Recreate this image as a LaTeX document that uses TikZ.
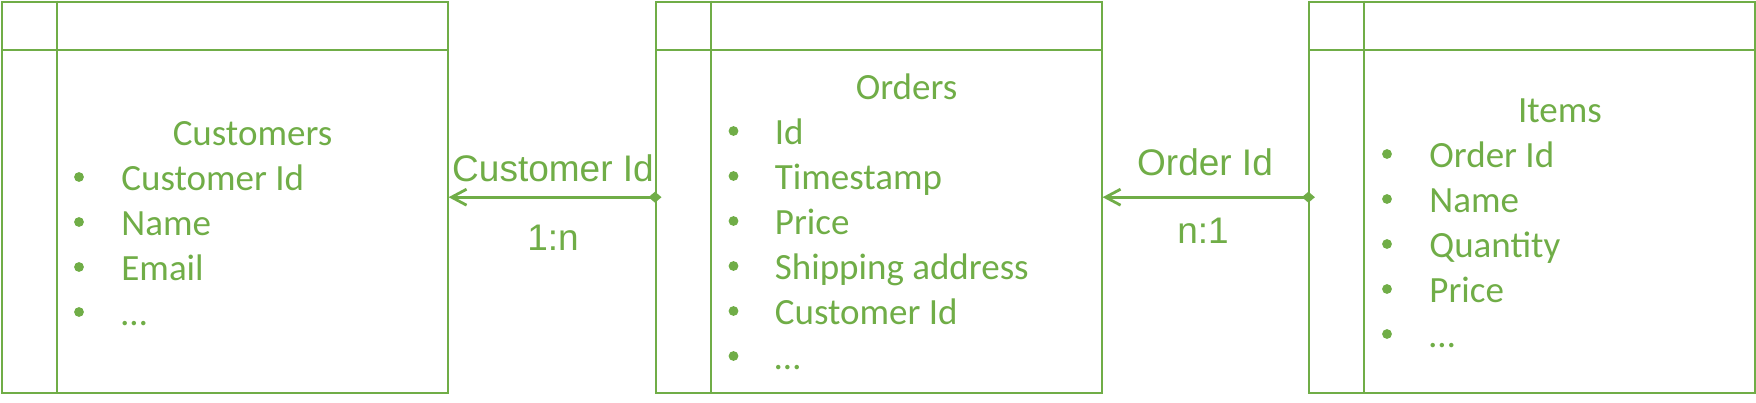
\documentclass[tikz,border=0pt]{standalone}
\usepackage{fontspec}
\setmainfont{Carlito}
\newfontfamily\relfont{Liberation Sans}
\usetikzlibrary{arrows.meta}
\definecolor{TblGreen}{HTML}{70AD47}

\begin{document}
\begin{tikzpicture}[x=0.5pt,y=-0.5pt,
      tbl/.style={draw=TblGreen,line width=1pt,minimum width=222.8pt,
                  minimum height=195.5pt,inner sep=0pt},
      rule/.style={TblGreen,line width=1pt},
      txt/.style={text=TblGreen,font=\fontsize{18.5}{22.5}\selectfont,inner sep=0pt},
      title/.style={txt,anchor=base},
      dot/.style={circle,fill=TblGreen,inner sep=0pt,minimum size=4.9pt},
      field/.style={txt,anchor=base west},
      rel/.style={{Diamond[length=6.5pt,width=5.5pt]}-{Straight Barb[length=7.5pt,width=8pt]},
                  TblGreen,line width=1.4pt},
      lbl/.style={text=TblGreen,font=\relfont\fontsize{18.5}{22}\selectfont,
                  inner sep=0pt,anchor=base}]
    \useasboundingbox (0,0) rectangle (1756,402);
    % tables
    \node[tbl] (cust)  at (224.8,197.2)  {};
    \node[tbl] (ord)   at (878.8,197.2)  {};
    \node[tbl] (items) at (1532.2,197.2) {};
    \foreach \t in {cust,ord,items} {
      \draw[rule] ([yshift=-24.5pt]\t.north west) -- ([yshift=-24.5pt]\t.north east);
      \draw[rule] ([xshift=27.75pt]\t.north west) -- ([xshift=27.75pt]\t.south west);
    }
    % Customers
    \node[title] (cust-t) at (252.5,145) {Customers};
    \foreach \f [count=\i] in {Customer Id,Name,Email,…} {
      \node[dot]   (cust-d\i) at (79,132+45*\i)  {};
      \node[field] (cust-f\i) at (121,145+45*\i) {\f};
    }
    % Orders
    \node[title] (ord-t) at (906.5,99) {Orders};
    \foreach \f [count=\i] in {Id,Timestamp,Price,Shipping address,Customer Id,…} {
      \node[dot]   (ord-d\i) at (733.5,86+45*\i) {};
      \node[field] (ord-f\i) at (774.5,99+45*\i) {\f};
    }
    % Items
    \node[title] (items-t) at (1560,122) {Items};
    \foreach \f [count=\i] in {Order Id,Name,Quantity,Price,…} {
      \node[dot]   (items-d\i) at (1387,109+45*\i) {};
      \node[field] (items-f\i) at (1429,122+45*\i) {\f};
    }
    % relations
    \draw[rel] ([xshift=3.25pt]ord.west) -- (cust.east);
    \draw[rel] ([xshift=3.25pt]items.west) -- (ord.east);
    \node[lbl] (custid) at (553,181)  {Customer Id};
    \node[lbl] (card1)  at (553,250)  {1:n};
    \node[lbl] (ordid)  at (1205,175) {Order Id};
    \node[lbl] (card2)  at (1203,243) {n:1};
  \end{tikzpicture}
\end{document}
